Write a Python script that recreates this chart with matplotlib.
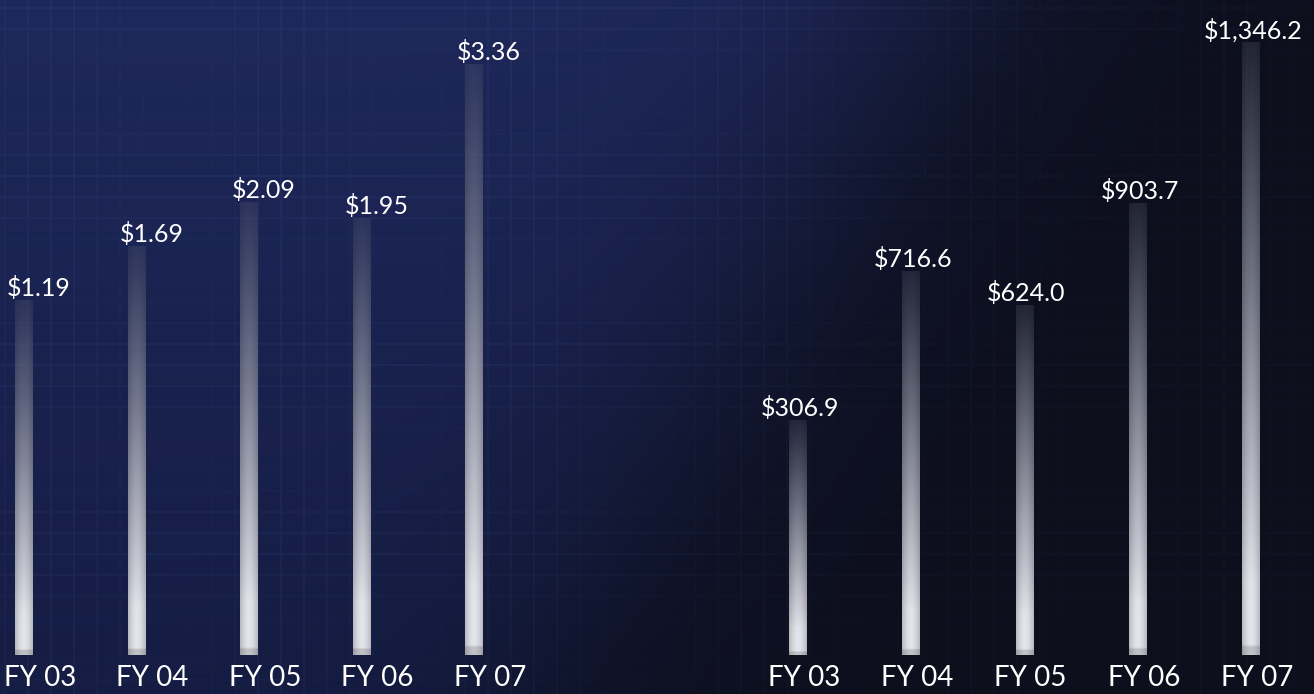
import numpy as np
import matplotlib
matplotlib.use('Agg')
import matplotlib.pyplot as plt

# fiscal years and the two series
years = ['FY 03', 'FY 04', 'FY 05', 'FY 06', 'FY 07']
eps = [1.19, 1.69, 2.09, 1.95, 3.36]
income = [306.9, 716.6, 624.0, 903.7, 1346.2]

W, H = 1314, 694
plt.rcParams['font.family'] = ['Lato', 'DejaVu Sans']


def background():
    yy, xx = np.mgrid[0:H, 0:W].astype(float)
    # navy in the upper left, almost black to the right
    d = xx + 0.58 * yy - 930
    t = 1 / (1 + np.exp(-d / 90))
    navy_top = np.array([30, 40, 90]) / 255
    navy_bot = np.array([21, 29, 68]) / 255
    dark = np.array([13, 15, 29]) / 255
    v = (yy / H)[..., None]
    navy = navy_top * (1 - v) + navy_bot * v
    img = navy * (1 - t[..., None]) + dark * t[..., None]
    # faint plaid texture
    gx = (np.abs(((xx + 7) % 23) - 11.5) < 1.0) * (0.5 + 0.5 * np.sin(xx / 37.0))
    gy = (np.abs(((yy + 3) % 21) - 10.5) < 1.0) * (0.5 + 0.5 * np.cos(yy / 29.0))
    tex = np.maximum(gx, gy)[..., None]
    img = img + tex * np.array([0.018, 0.026, 0.04]) * (1 - 0.5 * t[..., None])
    return np.clip(img, 0, 1)


def bar_gradient():
    n = 200
    s = np.linspace(1, 0, n)[:, None]          # 1 at top, 0 at bottom
    u = np.linspace(0, 1, 20)[None, :]
    top = np.array([0.40, 0.42, 0.50])
    bot = np.array([0.90, 0.90, 0.93])
    k = np.clip((s - 0.12) / 0.88, 0, 1) ** 0.8
    rgb = bot * (1 - k[..., None]) + top * k[..., None]
    rgb = rgb * (0.82 + 0.18 * np.sin(np.pi * u))[..., None]
    rgb[s[:, 0] < 0.012] *= 0.85
    alpha = np.clip(1 - 0.75 * s ** 2.2, 0, 1) * np.ones_like(u)
    return np.dstack([np.clip(rgb, 0, 1), alpha])


fig = plt.figure(figsize=(W / 100, H / 100), dpi=100)
bg = fig.add_axes([0, 0, 1, 1])
bg.imshow(background(), aspect='auto', extent=[0, 1, 0, 1], origin='upper')
bg.axis('off')

grad = bar_gradient()


def panel(left_px, width_px, first_px, step_px, values, ylo, yhi, fmt,
          val_dx, cat_dx):
    ax = fig.add_axes([left_px / W, 39 / H, width_px / W, 655 / H])
    ax.set_ylim(ylo, yhi)
    ax.axis('off')
    x = np.arange(len(values))
    bw = 18 / step_px
    bars = ax.bar(x, np.array(values) - ylo, bottom=ylo, width=bw,
                  color='none', edgecolor='none')
    for xi, v, b in zip(x, values, bars):
        im = ax.imshow(grad, extent=[xi - bw / 2, xi + bw / 2, ylo, v],
                       aspect='auto', zorder=2, interpolation='bilinear')
        im.set_clip_path(b)
        ax.annotate(fmt(v), (xi, v), xytext=(val_dx, 12),
                    textcoords='offset pixels', ha='center', va='center',
                    color='white', fontsize=18, annotation_clip=False)
    for xi, lab in zip(x, years):
        ax.annotate(lab, (xi, 0), xycoords=('data', 'axes fraction'),
                    xytext=(cat_dx, -23), textcoords='offset pixels',
                    ha='center', va='center', color='white', fontsize=20,
                    annotation_clip=False)
    ax.set_xlim((left_px - first_px) / step_px,
                (left_px + width_px - first_px) / step_px)
    return ax


panel(0, 520, 24, 112.5, eps, -2.07, 3.95,
      lambda v: f'${v:.2f}', 15, 16)
panel(740, 574, 798, 113.25, income, -338.0, 1462.0,
      lambda v: f'${v:,.1f}', 2, 6)

fig.savefig('out.png', dpi=100)
